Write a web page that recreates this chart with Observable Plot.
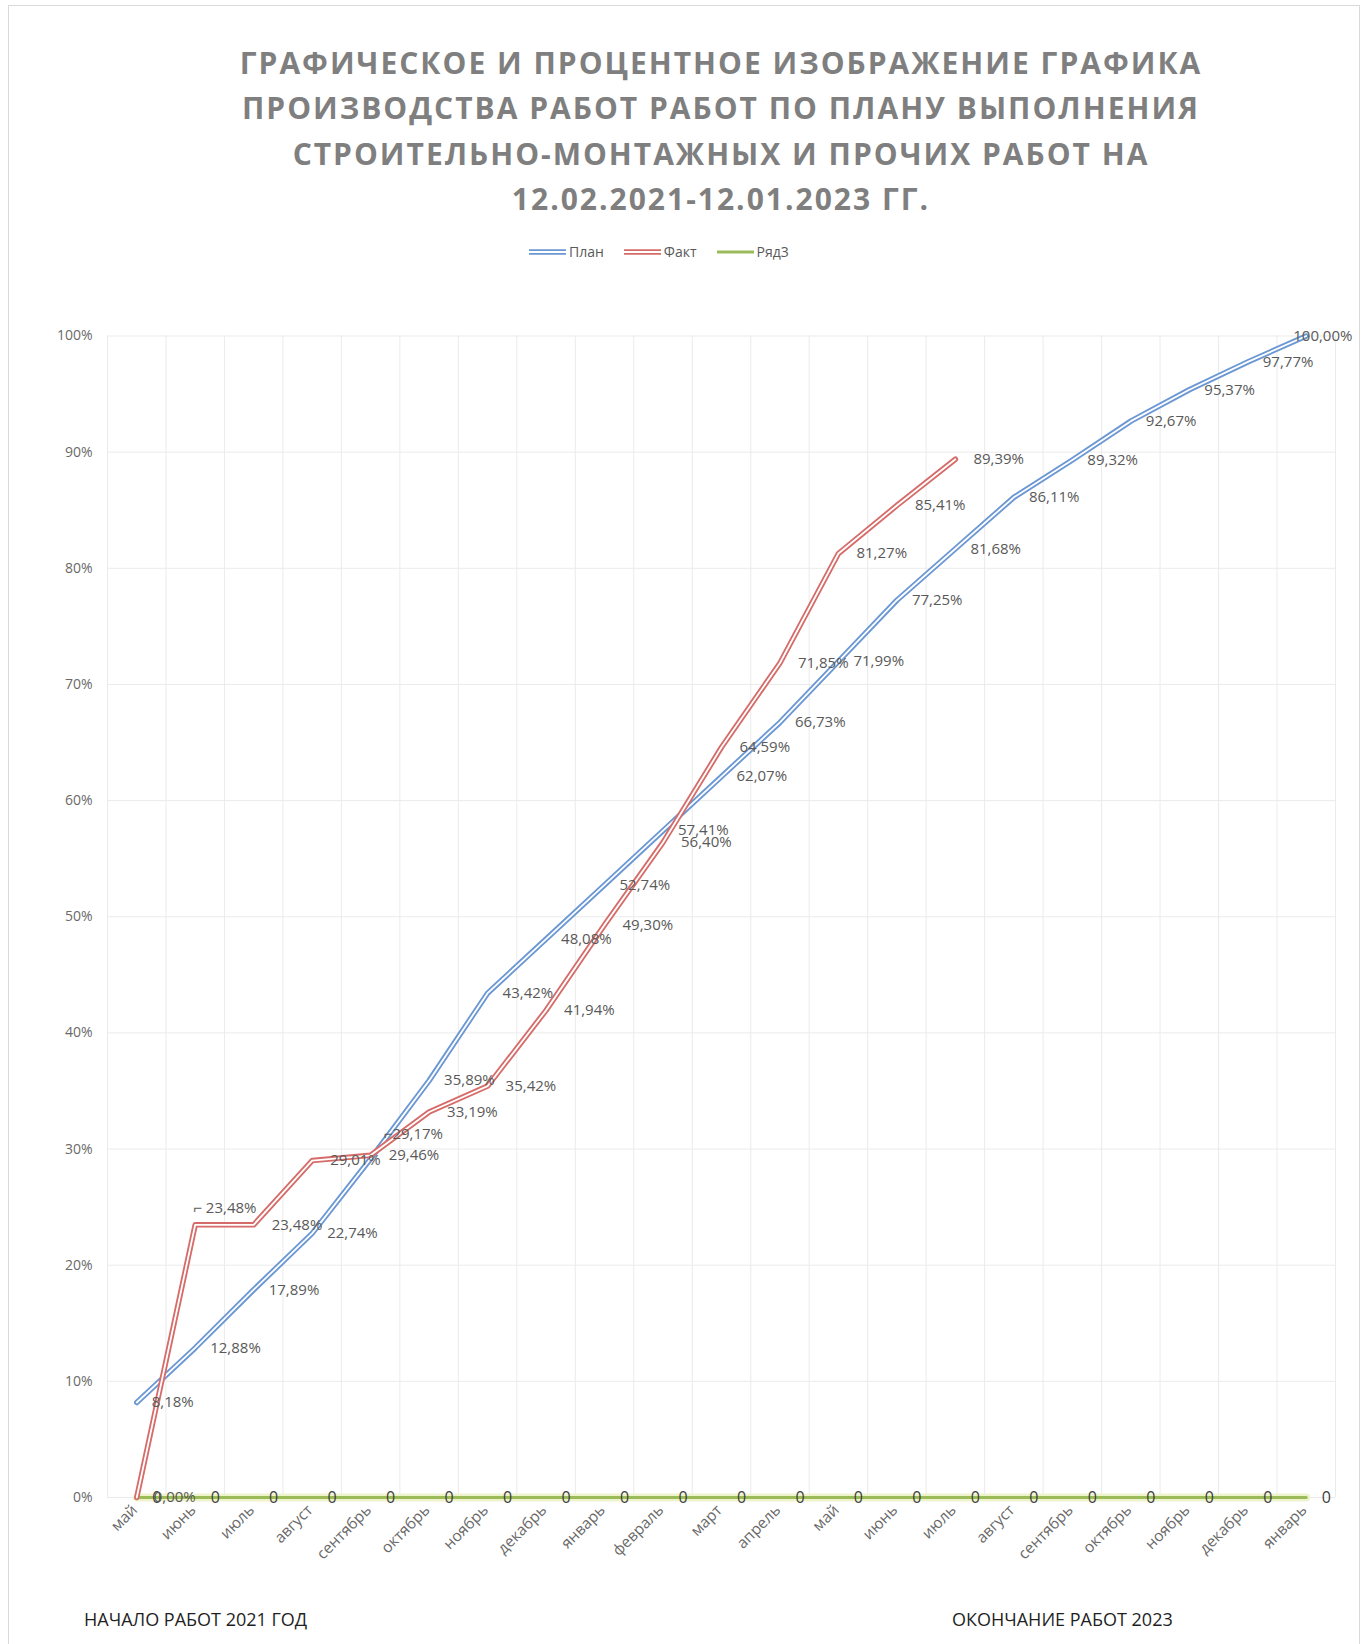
<!DOCTYPE html>
<html>
<head>
<meta charset="utf-8">
<script src="https://cdn.jsdelivr.net/npm/d3@7"></script>
<script src="https://cdn.jsdelivr.net/npm/@observablehq/plot@0.6"></script>
<style>
  html, body { margin: 0; padding: 0; background: #fff; }
  #page { position: relative; width: 1365px; height: 1644px; overflow: hidden; font-family: "Open Sans", sans-serif; }
  #frame { position: absolute; left: 8px; top: 5px; width: 1352px; height: 1660px; border: 1px solid #d9d9d9; box-sizing: border-box; }
  #title { position: absolute; left: 107px; width: 1228px; top: 40px; text-align: center; font-weight: 700; font-size: 30px; line-height: 45.3px; color: #7f7f7f; letter-spacing: 2px; }
  #legend { position: absolute; left: 529px; top: 242px; display: flex; align-items: center; font-size: 14px; color: #595959; }
  .item { display: flex; align-items: center; margin-right: 20px; }
  .item svg { margin-right: 3px; }
  #chart { position: absolute; left: 0; top: 290px; }
  .foot { position: absolute; top: 1607px; font-size: 18px; color: #1f1f1f; white-space: nowrap; }
</style>
</head>
<body>
<div id="page">
  <div id="frame"></div>
  <div id="title">ГРАФИЧЕСКОЕ И ПРОЦЕНТНОЕ ИЗОБРАЖЕНИЕ ГРАФИКА<br>ПРОИЗВОДСТВА РАБОТ РАБОТ ПО ПЛАНУ ВЫПОЛНЕНИЯ<br>СТРОИТЕЛЬНО-МОНТАЖНЫХ И ПРОЧИХ РАБОТ НА<br>12.02.2021-12.01.2023 ГГ.</div>
  <div id="legend"></div>
  <div id="chart"></div>
  <div class="foot" style="left:84px">НАЧАЛО РАБОТ 2021 ГОД</div>
  <div class="foot" style="left:952px">ОКОНЧАНИЕ РАБОТ 2023</div>
</div>
<script>
// ---- data ----
const months = ["май","июнь","июль","август","сентябрь","октябрь","ноябрь","декабрь","январь","февраль","март","апрель","май","июнь","июль","август","сентябрь","октябрь","ноябрь","декабрь","январь"];
const planValues = [8.18,12.88,17.89,22.74,29.17,35.89,43.42,48.08,52.74,57.41,62.07,66.73,71.99,77.25,81.68,86.11,89.32,92.67,95.37,97.77,100.00];
const factValues = [0.00,23.48,23.48,29.01,29.46,33.19,35.42,41.94,49.30,56.40,64.59,71.85,81.27,85.41,89.39];
const row3Values = [0,0,0,0,0,0,0,0,0,0,0,0,0,0,0,0,0,0,0,0,0];
const yTicks = [0,10,20,30,40,50,60,70,80,90,100];
const seriesNames = ["План","Факт","Ряд3"];

// ---- styles ----
const planColor = "#6b97d3";
const factColor = "#d56c69";
const row3Color = "#9bbb59";
const labelColor = "#595959";
const axisColor = "#6a6a6a";

const plan = planValues.map((v, i) => ({i, v}));
const fact = factValues.map((v, i) => ({i, v}));
const row3 = row3Values.map((v, i) => ({i, v}));
const idx = months.map((m, i) => i);
const bounds = [-0.5, ...idx.map(i => i + 0.5)];
const pct = v => d3.format(".2f")(v).replace(".", ",") + "%";

// labels moved up with a leader line in the original chart
const planLeader = new Set([4]);
const factLeader = new Set([1]);

// legend
const legend = document.getElementById("legend");
[[seriesNames[0], planColor, true], [seriesNames[1], factColor, true], [seriesNames[2], row3Color, false]].forEach(([name, color, dbl]) => {
  const it = document.createElement("div");
  it.className = "item";
  it.innerHTML = `<svg width="37" height="8">` +
    (dbl ? `<line x1="0" x2="37" y1="4" y2="4" stroke="${color}" stroke-width="5.5"/><line x1="0" x2="37" y1="4" y2="4" stroke="#fff" stroke-width="1.8"/>`
         : `<line x1="0" x2="37" y1="4" y2="4" stroke="${color}" stroke-width="3"/>`) +
    `</svg><span>${name}</span>`;
  legend.appendChild(it);
});

const textOpts = {x: "i", y: "v", textAnchor: "start", fontSize: 15, fill: labelColor};

const chart = Plot.plot({
  width: 1365,
  height: 1282,
  marginLeft: 107,
  marginRight: 30,
  marginTop: 45.5,
  marginBottom: 75,
  style: {fontFamily: "Open Sans, sans-serif", fontSize: "14px", color: axisColor, background: "transparent", overflow: "visible"},
  x: {type: "linear", domain: [-0.5, 20.5], axis: null},
  y: {domain: [0, 100], axis: null},
  marks: [
    Plot.ruleY(yTicks, {stroke: "#ebebeb", strokeWidth: 1}),
    Plot.ruleX(bounds, {stroke: "#ebebeb", strokeWidth: 1}),
    Plot.axisY({ticks: yTicks, tickFormat: d => d + "%", tickSize: 0, tickPadding: 15, fontSize: 14, label: null}),
    Plot.axisX({ticks: idx, tickFormat: i => months[i], tickRotate: -45, tickSize: 0, tickPadding: 10, fontSize: 15.5, label: null, dx: -2}),
    // Ряд3
    Plot.line(row3, {x: "i", y: "v", stroke: "#eef3cc", strokeWidth: 8}),
    Plot.line(row3, {x: "i", y: "v", stroke: row3Color, strokeWidth: 3}),
    // План
    Plot.line(plan, {x: "i", y: "v", stroke: planColor, strokeWidth: 5.5}),
    Plot.line(plan, {x: "i", y: "v", stroke: "#ffffff", strokeWidth: 1.8}),
    // Факт
    Plot.line(fact, {x: "i", y: "v", stroke: factColor, strokeWidth: 5.5}),
    Plot.line(fact, {x: "i", y: "v", stroke: "#ffffff", strokeWidth: 1.8}),
    // labels
    Plot.text(row3, {x: "i", y: "v", text: d => String(d.v), dx: 20, fontSize: 16, fill: "#3d3d3d"}),
    Plot.text(plan.filter(d => d.i < plan.length - 1 && !planLeader.has(d.i)), {...textOpts, text: d => pct(d.v), dx: 15}),
    Plot.text(plan.filter(d => planLeader.has(d.i)), {...textOpts, text: d => "⌐" + pct(d.v), dx: 13, dy: -25}),
    Plot.text(plan.filter(d => d.i === plan.length - 1), {...textOpts, text: d => pct(d.v), dx: -13}),
    Plot.text(fact.filter(d => d.i === 0), {...textOpts, text: d => pct(d.v), dx: 17}),
    Plot.text(fact.filter(d => factLeader.has(d.i)), {...textOpts, text: d => "⌐ " + pct(d.v), dx: -2, dy: -17}),
    Plot.text(fact.filter(d => d.i > 0 && !factLeader.has(d.i)), {...textOpts, text: d => pct(d.v), dx: 18})
  ]
});
document.getElementById("chart").appendChild(chart);
</script>
</body>
</html>
